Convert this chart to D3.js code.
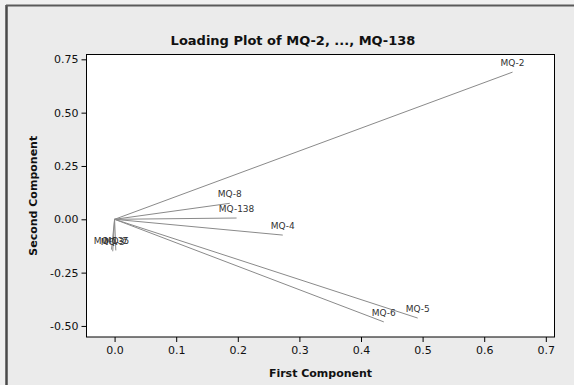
<!DOCTYPE html>
<html><head><meta charset="utf-8">
<script src="https://cdn.jsdelivr.net/npm/d3@7"></script>
<style>html,body{margin:0;padding:0;background:#f0f0f0;}svg{display:block;}</style>
</head><body>
<svg id="c" width="574" height="385"></svg>
<script>
const variables = ["MQ-2","MQ-8","MQ-138","MQ-4","MQ-5","MQ-6","MQ-135","MQ-3","MQ-7"];
const firstComp  = [0.646, 0.187, 0.198, 0.273, 0.492, 0.437, -0.005, -0.003, 0.002];
const secondComp = [0.690, 0.075, 0.006, -0.074, -0.463, -0.481, -0.142, -0.150, -0.146];
const xTicks = [0.0,0.1,0.2,0.3,0.4,0.5,0.6,0.7];
const yTicks = [0.75,0.50,0.25,0.00,-0.25,-0.50];
const xDomain = [-0.0456, 0.7141];
const yDomain = [-0.5518, 0.7726];

const svg = d3.select("#c");
const W=574,H=385;
svg.append("rect").attr("x",0).attr("y",0).attr("width",W).attr("height",H).attr("fill","#f0f0f0");
svg.append("rect").attr("x",6).attr("y",5).attr("width",W).attr("height",H).attr("fill","#ebebeb");
svg.append("line").attr("x1",6.5).attr("x2",6.5).attr("y1",5).attr("y2",H).attr("stroke","#4a4a4a").attr("stroke-width",2.5);
svg.append("line").attr("x1",6).attr("x2",W).attr("y1",5.5).attr("y2",5.5).attr("stroke","#5a5a5a").attr("stroke-width",2);

const L=86.5,R=554.5,T=54.5,B=337;
const x=d3.scaleLinear().domain(xDomain).range([L,R]);
const y=d3.scaleLinear().domain(yDomain).range([B,T]);

svg.append("rect").attr("x",L).attr("y",T).attr("width",R-L).attr("height",B-T)
  .attr("fill","#fff").attr("stroke","#000").attr("stroke-width",1);

const fmtX=d3.format(".1f"), fmtY=d3.format(".2f");
const gx=svg.append("g").attr("transform",`translate(0,${B})`)
  .call(d3.axisBottom(x).tickValues(xTicks).tickFormat(d=>fmtX(d).replace("−","-")).tickSize(5).tickSizeOuter(0).tickPadding(4));
const gy=svg.append("g").attr("transform",`translate(${L},0)`)
  .call(d3.axisLeft(y).tickValues(yTicks).tickFormat(d=>fmtY(d).replace("−","-")).tickSize(5).tickSizeOuter(0).tickPadding(3));
[gx,gy].forEach(g=>{
  g.select(".domain").remove();
  g.selectAll("line").attr("stroke","#000");
  g.selectAll("text").attr("fill","#111").style("font-family","DejaVu Sans").style("font-size","11px");
});

const data = variables.map((v,i)=>({v, a:firstComp[i], b:secondComp[i]}));
const gl=svg.append("g");
gl.selectAll("line").data(data).join("line")
  .attr("x1",x(0)).attr("y1",y(0)).attr("x2",d=>x(d.a)).attr("y2",d=>y(d.b))
  .attr("stroke","#8a8a8a").attr("stroke-width",1);
gl.selectAll("text").data(data).join("text")
  .attr("x",d=>x(d.a)).attr("y",d=>y(d.b)-6).attr("text-anchor","middle")
  .style("font-family","DejaVu Sans").style("font-size","9px").attr("fill","#333").text(d=>d.v);

svg.append("text").attr("x",293).attr("y",45).attr("text-anchor","middle")
  .style("font-family","DejaVu Sans").style("font-weight","bold").style("font-size","13px").attr("fill","#111")
  .text("Loading Plot of MQ-2, ..., MQ-138");
svg.append("text").attr("x",(L+R)/2).attr("y",377).attr("text-anchor","middle")
  .style("font-family","DejaVu Sans").style("font-weight","bold").style("font-size","11px").attr("fill","#111")
  .text("First Component");
svg.append("text").attr("transform",`translate(37,${(T+B)/2}) rotate(-90)`).attr("text-anchor","middle")
  .style("font-family","DejaVu Sans").style("font-weight","bold").style("font-size","11px").attr("fill","#111")
  .text("Second Component");
</script>
</body></html>
